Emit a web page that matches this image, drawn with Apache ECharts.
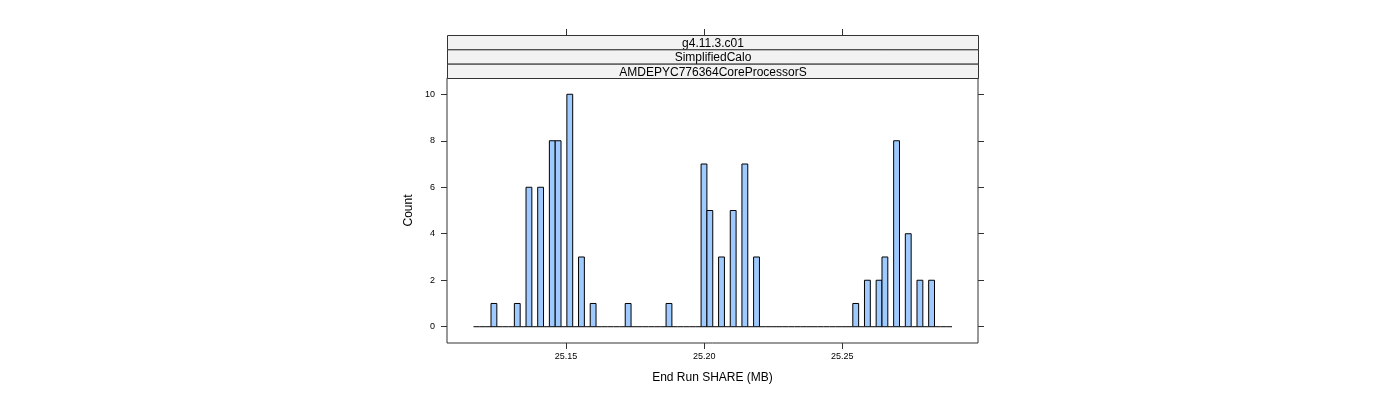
<!DOCTYPE html>
<html>
<head>
<meta charset="utf-8">
<script src="https://cdn.jsdelivr.net/npm/echarts@6/dist/echarts.min.js"></script>
<style>html,body{margin:0;padding:0;background:#fff;}#c{width:1400px;height:400px;}</style>
</head>
<body>
<div id="c"></div>
<script>
// Histogram definition (bin lower edge of first bin, bin width) and counts per bin
const binStart = 25.11652;
const binWidth = 0.002112;
const counts = [
  0,0,0,1,0,0,0,1,0,6, 0,6,0,8,8,0,10,0,3,0,
  1,0,0,0,0,0,1,0,0,0, 0,0,0,1,0,0,0,0,0,7,
  5,0,3,0,5,0,7,0,3,0, 0,0,0,0,0,0,0,0,0,0,
  0,0,0,0,0,1,0,2,0,2, 3,0,8,0,4,0,2,0,2,0,
  0,0
];
const xTicks = [25.15, 25.20, 25.25];
const yTicks = [0, 2, 4, 6, 8, 10];
const stripLabels = ["g4.11.3.c01", "SimplifiedCalo", "AMDEPYC776364CoreProcessorS"];
const xTitle = "End Run SHARE (MB)";
const yTitle = "Count";

const binData = counts.map((c, i) => [binStart + i * binWidth, binStart + (i + 1) * binWidth, c]);

const G = {left: 447, top: 78, width: 531, height: 265};
const stripH = 14.33;
const font = "'Liberation Sans', Arial, sans-serif";

const chart = echarts.init(document.getElementById('c'), null, {renderer: 'canvas'});

const graphics = stripLabels.map((t, k) => ({
  type: 'group',
  left: G.left, top: G.top - stripH * (stripLabels.length - k),
  children: [
    {type: 'rect', shape: {x: 0, y: 0, width: G.width, height: stripH},
     style: {fill: '#f2f2f2', stroke: '#333', lineWidth: 1}},
    {type: 'text', x: G.width / 2, y: stripH / 2 + 1,
     style: {text: t, fill: '#000', font: '12px ' + font, align: 'center', verticalAlign: 'middle'}}
  ]
}));

chart.setOption({
  animation: false,
  backgroundColor: '#fff',
  grid: {left: G.left, top: G.top, width: G.width, height: G.height, show: true,
         borderColor: '#333', borderWidth: 1, backgroundColor: 'transparent'},
  xAxis: [{
    type: 'value', min: 25.10693, max: 25.29911, position: 'bottom',
    name: xTitle, nameLocation: 'middle', nameGap: 29,
    nameTextStyle: {fontFamily: font, fontSize: 12, color: '#000'},
    axisLine: {show: false, onZero: false},
    splitLine: {show: false},
    axisTick: {show: true, inside: false, length: 6, customValues: xTicks, lineStyle: {color: '#333'}},
    axisLabel: {show: true, margin: 9, customValues: xTicks, fontFamily: font, fontSize: 9, color: '#000',
                formatter: v => v.toFixed(2)}
  }, {
    type: 'value', min: 25.10693, max: 25.29911, position: 'top', offset: stripH * 3,
    axisLine: {show: false, onZero: false}, splitLine: {show: false},
    axisTick: {show: true, length: 6, customValues: xTicks, lineStyle: {color: '#333'}},
    axisLabel: {show: false}
  }],
  yAxis: [{
    type: 'value', min: -0.7, max: 10.7, position: 'left',
    name: yTitle, nameLocation: 'middle', nameGap: 32, nameRotate: 90,
    nameTextStyle: {fontFamily: font, fontSize: 12, color: '#000'},
    axisLine: {show: false, onZero: false}, splitLine: {show: false},
    axisTick: {show: true, length: 6, customValues: yTicks, lineStyle: {color: '#333'}},
    axisLabel: {show: true, margin: 12, customValues: yTicks, fontFamily: font, fontSize: 9, color: '#000'}
  }, {
    type: 'value', min: -0.7, max: 10.7, position: 'right',
    axisLine: {show: false, onZero: false}, splitLine: {show: false},
    axisTick: {show: true, length: 6, customValues: yTicks, lineStyle: {color: '#333'}},
    axisLabel: {show: false}
  }],
  graphic: graphics,
  series: [{
    type: 'custom',
    xAxisIndex: 0, yAxisIndex: 0,
    data: binData,
    renderItem: function (params, api) {
      const lo = api.value(0), hi = api.value(1), c = api.value(2);
      const p0 = api.coord([lo, c]);
      const p1 = api.coord([hi, 0]);
      if (c === 0) {
        return {type: 'line', shape: {x1: p0[0], y1: p1[1], x2: p1[0], y2: p1[1]},
                style: {stroke: '#000', lineWidth: 1}};
      }
      return {type: 'rect',
              shape: {x: p0[0], y: p0[1], width: p1[0] - p0[0], height: p1[1] - p0[1]},
              style: {fill: '#9fcaff', stroke: '#000', lineWidth: 1}};
    }
  }]
});
</script>
</body>
</html>
